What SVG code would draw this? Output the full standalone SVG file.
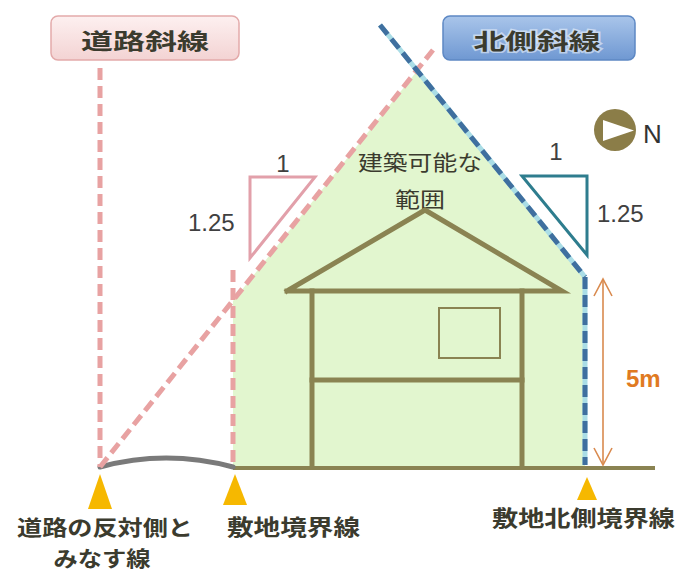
<svg xmlns="http://www.w3.org/2000/svg" width="679" height="573" viewBox="0 0 679 573">
<defs>
<linearGradient id="gPink" x1="0" y1="0" x2="0" y2="1"><stop offset="0" stop-color="#fdf0f0"/><stop offset="1" stop-color="#f3d3d3"/></linearGradient>
<linearGradient id="gBlue" x1="0" y1="0" x2="0" y2="1"><stop offset="0" stop-color="#a9c5ea"/><stop offset="1" stop-color="#6f98d2"/></linearGradient>
<style>
.pk{fill:none;stroke:#e8a2a2;stroke-width:5;stroke-dasharray:12 6}
.bl{fill:none;stroke:#3f6f9f;stroke-width:5;stroke-dasharray:12 6}
.blu{fill:none;stroke:#aadde6;stroke-width:5}
.ol{fill:none;stroke:#8a8352;stroke-width:5;stroke-linecap:square}
.ar{fill:none;stroke:#d98a4e;stroke-width:1.6}
.jp{font-family:"Noto Sans CJK JP","Noto Sans",sans-serif;fill:#3b3b2e}
.b{font-weight:bold}
.num{font-family:"Liberation Sans","Open Sans",sans-serif;fill:#404040;font-size:24px}
.mk{fill:#f6b800}
</style>
</defs>
<rect width="679" height="573" fill="#ffffff"/>

<g id="buildable-area">
<polygon points="233,467 233,301 417,71 585,277 585,467" fill="#e2f6cf"/>
<text class="jp" x="420" y="170" font-size="21" text-anchor="middle" textLength="124" lengthAdjust="spacingAndGlyphs">建築可能な</text>
<text class="jp" x="420" y="207" font-size="21" text-anchor="middle" textLength="50" lengthAdjust="spacingAndGlyphs">範囲</text>
</g>

<g id="house">
<polyline class="ol" points="287,291 425,210 562,291 287,291"/>
<line class="ol" x1="312" y1="291" x2="312" y2="467"/>
<line class="ol" x1="522" y1="291" x2="522" y2="467"/>
<line class="ol" x1="312" y1="380" x2="522" y2="380"/>
<rect x="439" y="308" width="61" height="50" fill="none" stroke="#8a8352" stroke-width="2"/>
</g>

<g id="ground">
<line x1="233" y1="468" x2="655" y2="468" stroke="#8a8352" stroke-width="4"/>
<path d="M100,467 Q166,449 233,467" fill="none" stroke="#7a7a7a" stroke-width="5" stroke-linecap="round"/>
</g>

<g id="connectors">
<line class="pk" x1="100" y1="68" x2="100" y2="467"/>
<line class="pk" x1="233" y1="270" x2="233" y2="467"/>
<line class="pk" x1="100" y1="467" x2="433" y2="50"/>
<line class="blu" x1="380" y1="25" x2="585" y2="277"/>
<line class="bl" x1="380" y1="25" x2="585" y2="277"/>
<line class="blu" x1="585" y1="277" x2="585" y2="465"/>
<line class="bl" x1="585" y1="277" x2="585" y2="465"/>
<line class="ar" x1="603" y1="279" x2="603" y2="465"/>
<polyline class="ar" points="594,296 603,279 612,296"/>
<polyline class="ar" points="594,448 603,465 612,448"/>
</g>

<g id="road-slope-title">
<rect x="51" y="16" width="188" height="44" rx="7" fill="url(#gPink)" stroke="#e3aaaa" stroke-width="1.5"/>
<text class="jp b" x="145" y="49" font-size="22" text-anchor="middle" textLength="128" lengthAdjust="spacingAndGlyphs">道路斜線</text>
</g>

<g id="north-slope-title">
<rect x="443" y="16" width="192" height="44" rx="7" fill="url(#gBlue)" stroke="#5d88c4" stroke-width="1.5"/>
<text class="jp b" x="537" y="49" font-size="22" text-anchor="middle" textLength="127" lengthAdjust="spacingAndGlyphs" stroke="#ffffff" stroke-width="3" stroke-opacity="0.5" paint-order="stroke">北側斜線</text>
</g>

<g id="road-ratio">
<polygon points="250,177 315,177 250,258" fill="none" stroke="#e2a0aa" stroke-width="3"/>
<text class="num" x="283" y="172" text-anchor="middle">1</text>
<text class="num" x="188" y="231">1.25</text>
</g>

<g id="north-ratio">
<polygon points="522,176 587,176 587,255" fill="none" stroke="#2e7d8e" stroke-width="3"/>
<text class="num" x="556" y="160" text-anchor="middle">1</text>
<text class="num" x="597" y="222">1.25</text>
</g>

<g id="compass">
<circle cx="615" cy="130" r="21" fill="#8b7d48"/>
<polygon points="603,120 603,141 634,130.5" fill="#ffffff"/>
<text x="643" y="143" font-family="Liberation Sans, sans-serif" font-size="26" fill="#333333">N</text>
</g>

<g id="height-5m">
<text x="626" y="387" font-family="Liberation Sans, sans-serif" font-weight="bold" font-size="24" fill="#e07a22">5m</text>
</g>

<g id="marker-opposite">
<polygon class="mk" points="100,474 88,509 112,509"/>
<text class="jp b" x="17" y="535" font-size="21" textLength="176" lengthAdjust="spacingAndGlyphs">道路の反対側と</text>
<text class="jp b" x="102" y="566" font-size="21" text-anchor="middle" textLength="97" lengthAdjust="spacingAndGlyphs">みなす線</text>
</g>

<g id="marker-boundary">
<polygon class="mk" points="235,474 223,505 247,505"/>
<text class="jp b" x="227" y="535" font-size="22" textLength="133" lengthAdjust="spacingAndGlyphs">敷地境界線</text>
</g>

<g id="marker-north-boundary">
<polygon class="mk" points="587,477 577,500 597,500"/>
<text class="jp b" x="492" y="526" font-size="22" textLength="183" lengthAdjust="spacingAndGlyphs">敷地北側境界線</text>
</g>
</svg>
